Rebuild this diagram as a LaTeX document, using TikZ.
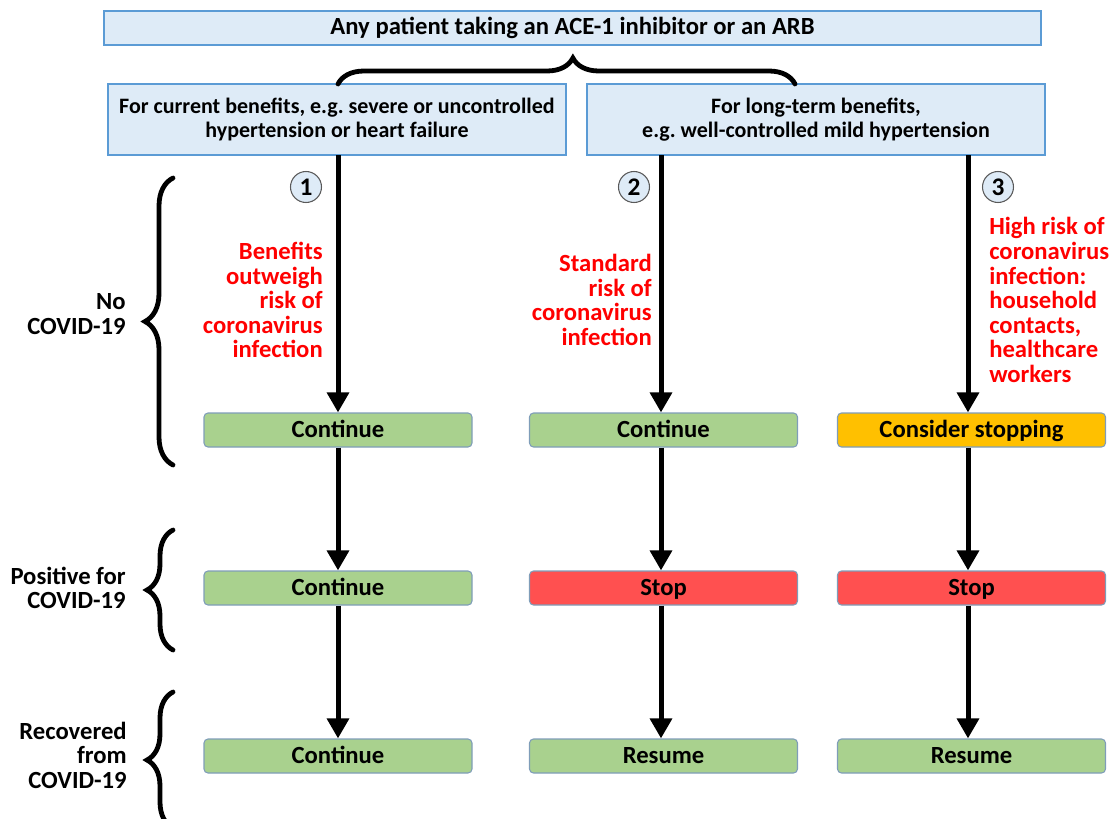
\documentclass[tikz,border=0pt]{standalone}
\usepackage{fontspec}
\setmainfont{Carlito}
\usetikzlibrary{arrows.meta,decorations.pathreplacing,calc}
\definecolor{boxblue}{HTML}{DEEBF7}
\definecolor{edgeblue}{HTML}{5B9BD5}
\definecolor{boxgreen}{HTML}{A9D18E}
\definecolor{boxred}{HTML}{FF5050}
\definecolor{boxorange}{HTML}{FFC000}
\definecolor{softedge}{HTML}{7F9DB9}
\definecolor{redtext}{HTML}{FF0000}
\begin{document}
\begin{tikzpicture}[x=0.75pt,y=-0.75pt,
  every node/.style={font=\bfseries\fontsize{18.5}{18.4}\selectfont, inner sep=0pt},
  topbox/.style={draw=edgeblue, fill=boxblue, line width=1.1pt, align=center},
  midfont/.style={font=\bfseries\fontsize{16.5}{18.4}\selectfont},
  stepbox/.style={draw=softedge, line width=0.8pt, rounded corners=3pt, minimum width={268*0.75pt}, minimum height={34*0.75pt}, text height=11.9pt, text depth=0pt},
  gbox/.style={stepbox, fill=boxgreen},
  rbox/.style={stepbox, fill=boxred},
  obox/.style={stepbox, fill=boxorange},
  flow/.style={line width=3.75pt, -{Triangle[width=16pt,length=15pt]}},
  numcirc/.style={circle, draw=gray!70!black, fill=boxblue, line width=0.8pt, minimum size={31*0.75pt}, font=\bfseries\fontsize{19}{19}\selectfont},
  redlbl/.style={text=redtext},
  sidelbl/.style={align=right, anchor=east},
  bigbrace/.style={decorate, line width=3.6pt, line cap=round}
]
\clip (0,0) rectangle (1114,818);
\useasboundingbox (0,0) rectangle (1114,818);

% top boxes
\node[topbox, minimum width={937*0.75pt}, minimum height={34*0.75pt}] (top) at (572.5,28) {Any patient taking an ACE-1 inhibitor or an ARB};
\node[topbox, midfont, minimum width={458*0.75pt}, minimum height={71*0.75pt}] (curr) at (337,119.5) {For current benefits, e.g.\ severe or uncontrolled\\hypertension or heart failure};
\node[topbox, midfont, minimum width={458*0.75pt}, minimum height={71*0.75pt}] (long) at (816,119.5) {For long-term benefits,\\e.g.\ well-controlled mild hypertension};

% horizontal brace
\draw[bigbrace, decoration={brace, amplitude=19.5pt, aspect=0.514}] (338,84) -- (795,84);

% rows of boxes
\node[gbox] (a1) at (338,430) {Continue};
\node[gbox] (b1) at (663.5,430) {Continue};
\node[obox] (c1) at (971.5,430) {Consider stopping};
\node[gbox] (a2) at (338,588) {Continue};
\node[rbox] (b2) at (663.5,588) {Stop};
\node[rbox] (c2) at (971.5,588) {Stop};
\node[gbox] (a3) at (338,756) {Continue};
\node[gbox] (b3) at (663.5,756) {Resume};
\node[gbox] (c3) at (971.5,756) {Resume};

% arrows
\coordinate (s1) at (338,155);
\coordinate (s2) at (661,155);
\coordinate (s3) at (968,155);
\draw[flow] (s1) -- (s1 |- a1.north);
\draw[flow] (s2) -- (s2 |- b1.north);
\draw[flow] (s3) -- (s3 |- c1.north);
\draw[flow] (s1 |- a1.south) -- (s1 |- a2.north);
\draw[flow] (s2 |- b1.south) -- (s2 |- b2.north);
\draw[flow] (s3 |- c1.south) -- (s3 |- c2.north);
\draw[flow] (s1 |- a2.south) -- (s1 |- a3.north);
\draw[flow] (s2 |- b2.south) -- (s2 |- b3.north);
\draw[flow] (s3 |- c2.south) -- (s3 |- c3.north);

% numbered circles
\node[numcirc] (n1) at (306,187) {1};
\node[numcirc] (n2) at (634,187) {2};
\node[numcirc] (n3) at (998,187) {3};

% red labels
\node[redlbl, align=right, anchor=east] (r1) at (323,300) {Benefits\\outweigh\\risk of\\coronavirus\\infection};
\node[redlbl, align=right, anchor=east] (r2) at (652,300) {Standard\\risk of\\coronavirus\\infection};
\node[redlbl, align=left, anchor=west] (r3) at (989,300) {High risk of\\coronavirus\\infection:\\household\\contacts,\\healthcare\\workers};

% left braces and labels
\draw[bigbrace, decoration={brace, amplitude=21pt}] (173,465) -- (173,178);
\draw[bigbrace, decoration={brace, amplitude=19.5pt}] (173,650) -- (173,530);
\draw[bigbrace, decoration={brace, amplitude=19.5pt}] (173,828) -- (173,692);
\node[sidelbl] (l1) at (126,314) {No\\COVID-19};
\node[sidelbl] (l2) at (126,588) {Positive for\\COVID-19};
\node[sidelbl] (l3) at (127,755) {Recovered\\from\\COVID-19};
\end{tikzpicture}
\end{document}
